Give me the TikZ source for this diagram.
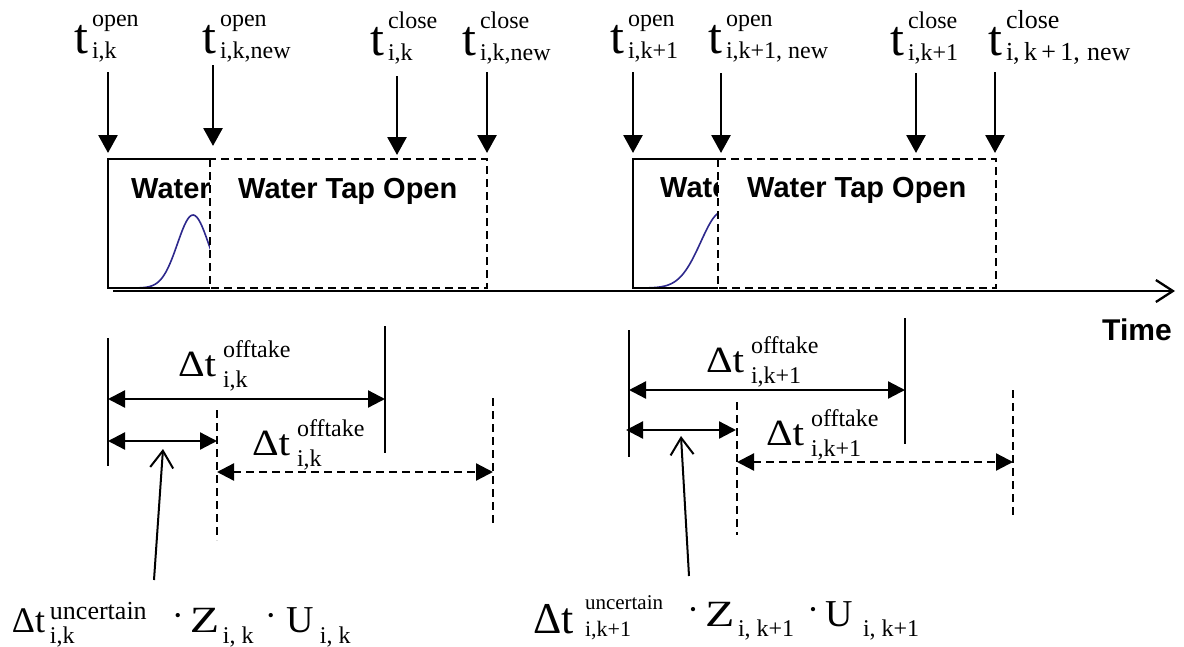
\documentclass[tikz,border=0pt]{standalone}
\usepackage{fontspec}
\setmainfont{Liberation Serif}
\newfontfamily\sansb{Liberation Sans}
\usetikzlibrary{arrows.meta}
\newcommand\fs[1]{\fontsize{#1}{#1}\selectfont}
\newcommand\bx[2]{\makebox[#1][l]{#2}}
\newcommand\scrs[4]{%
  \begingroup
  \setbox0=\hbox{\raisebox{#3}{#1}}%
  \setbox2=\hbox{\raisebox{-#4}{#2}}%
  \ifdim\wd0>\wd2 \rlap{\copy2}\copy0 \else\rlap{\copy0}\copy2 \fi
  \endgroup}
\newcommand\toplbl[2]{\bx{18pt}{\fs{50}t}{\fs{24}\scrs{#1}{#2}{27pt}{5pt}}}
\newcommand\dlbl[1]{\bx{45pt}{\fs{37}\scalebox{1.12}[1]{Δt}}{\fs{24}\scrs{offtake}{#1}{19pt}{11pt}}}
\newcommand\cdt{\raisebox{5pt}{\fs{36}·}}
\definecolor{curveblue}{RGB}{45,40,140}
\tikzset{
  lbl/.style={anchor=base west,inner sep=0pt,outer sep=0pt},
  boxtxt/.style={anchor=base west,inner sep=0pt,font=\sansb\bfseries\fs{29}},
  solidln/.style={line width=2.3pt},
  dashln/.style={line width=2.3pt,dash pattern=on 8pt off 5pt},
  downarr/.style={line width=2.8pt,-{Triangle[length=18pt,width=19pt]}},
  dimarr/.style={line width=2.3pt,{Triangle[length=17pt,width=17pt]}-{Triangle[length=17pt,width=17pt]}},
  ptrarr/.style={line width=2pt,-{Straight Barb[length=17pt,width=23pt]}},
  curve/.style={curveblue,line width=1.6pt},
}
\begin{document}
\begin{tikzpicture}[x=1pt,y=-1pt]
\useasboundingbox (0,0) rectangle (1184,646);
\fill[white] (0,0) rectangle (1184,646);

% ---- top labels
\node[lbl] (l1) at (74,53) {\toplbl{open}{i,k}};
\node[lbl] (l2) at (202,53) {\toplbl{open}{i,k,new}};
\node[lbl] (l3) at (370,55) {\toplbl{close}{i,k}};
\node[lbl] (l4) at (462,55) {\toplbl{close}{i,k,new}};
\node[lbl] (l5) at (610,53) {\toplbl{open}{i,k+1}};
\node[lbl] (l6) at (708,53) {\toplbl{open}{i,k+1, new}};
\node[lbl] (l7) at (890,55) {\toplbl{close}{i,k+1}};
\node[lbl] (l8) at (988,55) {\toplbl{{\fs{26}close}}{{\fs{26}i,\,k\,+\,1,\;new}}};

% ---- down arrows
\coordinate (a1s) at (108,72);  \coordinate (a1e) at (108,153);
\coordinate (a2s) at (213,65);  \coordinate (a2e) at (213,146);
\coordinate (a3s) at (397,76);  \coordinate (a3e) at (397,155);
\coordinate (a4s) at (487,72);  \coordinate (a4e) at (487,153);
\coordinate (a5s) at (633,72);  \coordinate (a5e) at (633,153);
\coordinate (a6s) at (721,73);  \coordinate (a6e) at (721,153);
\coordinate (a7s) at (916,73);  \coordinate (a7e) at (916,153);
\coordinate (a8s) at (995,72);  \coordinate (a8e) at (995,153);
\foreach \i in {1,...,8} \draw[downarr] (a\i s) -- (a\i e);

% ---- block 1
\draw[curve] plot[domain=108:215,samples=60] (\x,{288-73*exp(-((\x-193)/22)*((\x-193)/22))});
\node[boxtxt] (w1) at (131,198) {Water};
\draw[solidln] (210,159) -- (108,159) -- (108,288) -- (210,288);
\draw[dashln,fill=white] (210,159) rectangle (487,288);
\node[boxtxt] (w2) at (238,198) {Water Tap Open};

% ---- block 2
\draw[curve] plot[domain=633:722,samples=60] (\x,{288-76*exp(-((\x-722)/30)*((\x-722)/30))});
\node[boxtxt] (w3) at (660,197) {Water};
\draw[solidln] (718,159) -- (633,159) -- (633,288) -- (718,288);
\draw[dashln,fill=white] (718,159) rectangle (996,288);
\node[boxtxt] (w4) at (747,197) {Water Tap Open};

% ---- time axis
\coordinate (ax0) at (113,291);
\coordinate (ax1) at (1175,291);
\draw[line width=2.3pt,-{Straight Barb[length=17pt,width=22pt]}] (ax0) -- (ax1);
\node[boxtxt,font=\sansb\bfseries\fs{30}] (time) at (1102,340) {Time};

% ---- dimension lines, block 1
\coordinate (p1t) at (108,338); \coordinate (p1b) at (108,466);
\coordinate (p2t) at (385,326); \coordinate (p2b) at (385,453);
\coordinate (p3t) at (217,410); \coordinate (p3b) at (217,540);
\coordinate (p4t) at (493,398); \coordinate (p4b) at (493,525);
\draw[solidln] (p1t) -- (p1b);
\draw[solidln] (p2t) -- (p2b);
\draw[dashln] (p3t) -- (p3b);
\draw[dashln] (p4t) -- (p4b);
\coordinate (d1a) at (108,399); \coordinate (d1b) at (385,399);
\coordinate (d2a) at (108,441); \coordinate (d2b) at (217,441);
\coordinate (d3a) at (217,472); \coordinate (d3b) at (493,472);
\draw[dimarr] (d1a) -- (d1b);
\draw[dimarr] (d2a) -- (d2b);
\draw[dimarr,dash pattern=on 8pt off 5pt] (d3a) -- (d3b);
\node[lbl] (o1) at (178,376) {\dlbl{i,k}};
\node[lbl] (o2) at (252,455) {\dlbl{i,k}};

% ---- dimension lines, block 2
\coordinate (q1t) at (629,330); \coordinate (q1b) at (629,457);
\coordinate (q2t) at (905,318); \coordinate (q2b) at (905,444);
\coordinate (q3t) at (737,402); \coordinate (q3b) at (737,535);
\coordinate (q4t) at (1013,390); \coordinate (q4b) at (1013,518);
\draw[solidln] (q1t) -- (q1b);
\draw[solidln] (q2t) -- (q2b);
\draw[dashln] (q3t) -- (q3b);
\draw[dashln] (q4t) -- (q4b);
\coordinate (e1a) at (629,390); \coordinate (e1b) at (905,390);
\coordinate (e2a) at (626,430); \coordinate (e2b) at (736,430);
\coordinate (e3a) at (737,462); \coordinate (e3b) at (1013,462);
\draw[dimarr] (e1a) -- (e1b);
\draw[dimarr] (e2a) -- (e2b);
\draw[dimarr,dash pattern=on 8pt off 5pt] (e3a) -- (e3b);
\node[lbl] (o3) at (706,372) {\dlbl{i,k+1}};
\node[lbl] (o4) at (766,445) {\dlbl{i,k+1}};

% ---- uncertainty formulas and pointers
\node[lbl] (f1) at (12,632) {\bx{38pt}{\fs{36}Δt}\bx{122pt}{\scrs{\fs{26}uncertain}{\fs{24}i,k}{13pt}{11pt}}\bx{18pt}{\cdt}\bx{33pt}{\fs{37}\scalebox{1.3}[1]{Z}}\bx{42pt}{\raisebox{-11pt}{\fs{24}i, k}}\bx{22pt}{\cdt}\bx{33pt}{\fs{38}U}\raisebox{-11pt}{\fs{24}i, k}};
\node[lbl] (f2) at (533,626) {\bx{52pt}{\raisebox{-7pt}{\fs{44}Δt}}\bx{102pt}{\scrs{\fs{21}uncertain}{\fs{22}i,k+1}{17pt}{10pt}}\bx{18pt}{\cdt}\bx{33pt}{\fs{37}\scalebox{1.3}[1]{Z}}\bx{69pt}{\raisebox{-10pt}{\fs{24}i, k+1}}\bx{18pt}{\cdt}\bx{38pt}{\fs{38}U}\raisebox{-10pt}{\fs{24}i, k+1}};
\coordinate (u1s) at (154,580); \coordinate (u1e) at (163,449);
\coordinate (u2s) at (689,576); \coordinate (u2e) at (681,436);
\draw[ptrarr] (u1s) -- (u1e);
\draw[ptrarr] (u2s) -- (u2e);
\end{tikzpicture}
\end{document}
